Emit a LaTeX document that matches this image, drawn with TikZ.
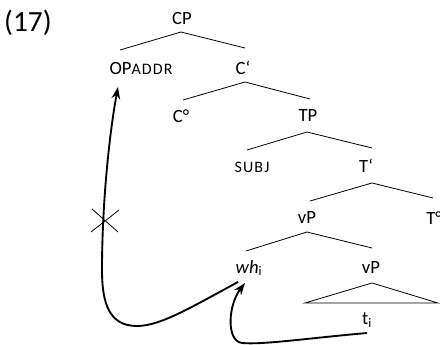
\documentclass[tikz,border=0pt]{standalone}
\usepackage{fontspec}
\setmainfont{Carlito}
\usetikzlibrary{arrows.meta}
% faked small capitals for feature labels
\newcommand{\fsc}[1]{{\fontsize{12}{12}\selectfont\addfontfeature{LetterSpace=7}#1}}
\begin{document}
\begin{tikzpicture}[x=0.75pt,y=-0.75pt,
  lab/.style={inner sep=0pt,font=\fontsize{14}{14}\selectfont},
  branch/.style={line width=0.6pt},
  move/.style={line width=1.4pt,-{Stealth[length=9pt,width=6.5pt]}},
  block/.style={line width=0.6pt}]
\useasboundingbox (0,0) rectangle (440,345);

% example number
\node[inner sep=0pt,font=\fontsize{22}{22}\selectfont] (num) at (28,23) {(17)};

% tree labels
\node[lab] (CP)   at (182,19)  {CP};
\node[lab] (OP)   at (141,69)  {OP\fsc{ADDR}};
\node[lab] (Cb)   at (243,68)  {C‘};
\node[lab] (C0)   at (181,116) {C°};
\node[lab] (TP)   at (308,116) {TP};
\node[lab] (subj) at (252,167) {\fsc{SUBJ}};
\node[lab] (Tb)   at (366,166) {T‘};
\node[lab] (vP)   at (307,218) {vP};
\node[lab] (T0)   at (434,218) {T°};
\node[lab] (wh)   at (249,268) {\textit{wh}\textsubscript{i}};
\node[lab] (vPl)  at (371,268) {vP};
\node[lab] (ti)   at (367,320) {t\textsubscript{i}};

% branch points
\coordinate (cpA) at (181,32);  \coordinate (cpL) at (120,50);  \coordinate (cpR) at (245,48);
\coordinate (cbA) at (245,82);  \coordinate (cbL) at (183,100); \coordinate (cbR) at (310,99);
\coordinate (tpA) at (307,132); \coordinate (tpL) at (247,150); \coordinate (tpR) at (372,148);
\coordinate (tbA) at (372,183); \coordinate (tbL) at (310,201); \coordinate (tbR) at (433,198);
\coordinate (vpA) at (307,232); \coordinate (vpL) at (246,251); \coordinate (vpR) at (372,248);
\coordinate (trA) at (372,283); \coordinate (trL) at (305,303); \coordinate (trR) at (438,303);

\draw[branch] (cpL) -- (cpA) -- (cpR);
\draw[branch] (cbL) -- (cbA) -- (cbR);
\draw[branch] (tpL) -- (tpA) -- (tpR);
\draw[branch] (tbL) -- (tbA) -- (tbR);
\draw[branch] (vpL) -- (vpA) -- (vpR);
\draw[branch] (trL) -- (trA) -- (trR) -- cycle;

% movement of wh from its trace
\coordinate (tiS) at (367,333);
\coordinate (whT) at (245,283);
\draw[move] (tiS) .. controls (310,338) and (262,345) .. (242,343)
  .. controls (226,341) and (228,305) .. (whT);

% blocked movement to the addressee operator
\coordinate (whS) at (238,282);
\coordinate (opT) at (118,87);
\draw[move] (whS) .. controls (190,308) and (160,326) .. (137,326)
  .. controls (110,326) and (102,305) .. (102,270)
  .. controls (102,200) and (110,130) .. (opT);

% crossing-out mark
\coordinate (stop) at (105,221);
\draw[block] (stop) ++(-13,-12) -- ++(26,23);
\draw[block] (stop) ++(14,-11) -- ++(-28,22);
\end{tikzpicture}
\end{document}
